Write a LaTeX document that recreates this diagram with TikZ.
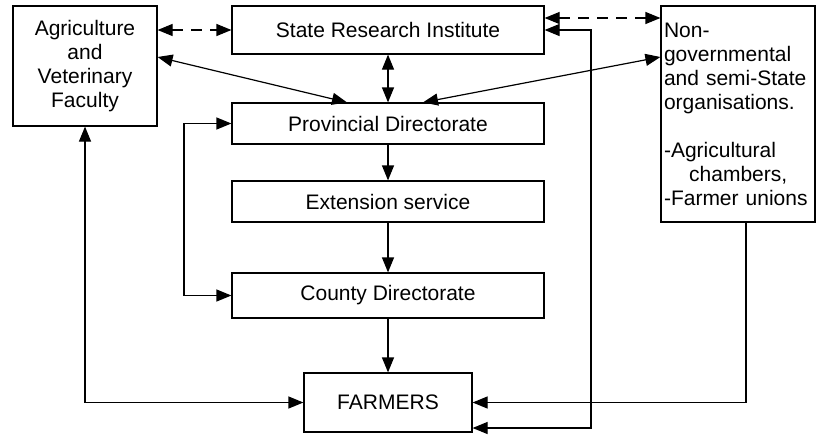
\documentclass[tikz,border=0pt]{standalone}
\usepackage{fontspec}
\setmainfont{Liberation Sans}
\usetikzlibrary{arrows.meta,positioning}
\tikzstyle{unit} = [rectangle, minimum width=312pt, text centered, draw=black, line width=1.2pt]
\tikzstyle{side} = [rectangle, draw=black, line width=1.2pt, inner sep=3pt]
\tikzstyle{arrow} = [-{Triangle[length=15pt,width=12pt]}, line width=1.2pt]
\tikzstyle{both} = [{Triangle[length=15pt,width=12pt]}-{Triangle[length=15pt,width=12pt]}, line width=1.2pt]
\tikzstyle{link} = [both, dash pattern=on 11pt off 8pt]
\begin{document}
\begin{tikzpicture}[x=1pt, y=-1pt, font=\fontsize{21}{24}\selectfont]
\useasboundingbox (0,0) rectangle (816,434);
% Draw shapes
\node (SRI) [unit, minimum height=48pt] at (388,30)
{State Research Institute};
\node (Prov) [unit, minimum height=41pt, below of = SRI, node distance=93.5pt]
{Provincial Directorate};
\node (Ext) [unit, minimum height=41pt, below of = Prov, node distance=78pt]
{Extension service};
\node (County) [unit, minimum height=45pt, below of = Ext, node distance=94pt]
{County Directorate};
\node (FARMERS) [unit, minimum width=168pt, minimum height=59pt, below of = County, node distance=107pt]
{FARMERS};
\node (Agri) [side, minimum width=144pt, minimum height=120pt, align=center] at (85,66)
{Agriculture\\ and\\ Veterinary\\ Faculty};
\node (NGO) [side, text width=148pt, minimum height=216pt, align=left] at (738,114)
{Non-\\ governmental\\ and semi-State\\ organisations.\\[24pt]
-Agricultural\\ \hspace*{1.2em}chambers,\\ -Farmer unions};
\coordinate (leftrail) at (184,0);
\coordinate (rightrail) at (591,0);
\coordinate (dashtop) at ([yshift=12pt]SRI.east);
\coordinate (farmlow) at ([yshift=-25.5pt]FARMERS.east);
% Draw arrows
\draw [link] (Agri.east |- SRI.west) -- (SRI.west);
\draw [link] (dashtop) -- (dashtop -| NGO.west);
\draw [both] ([yshift=9pt]Agri.east) -- ([xshift=-41pt]Prov.north);
\draw [both] ([yshift=57pt]NGO.west) -- ([xshift=35pt]Prov.north);
\draw [both] (SRI) -- (Prov);
\draw [arrow] (Prov) -- (Ext);
\draw [arrow] (Ext) -- (County);
\draw [arrow] (County) -- (FARMERS);
\draw [both] (Prov.west) -- (Prov.west -| leftrail) -- (leftrail |- County.west) -- (County.west);
\draw [both] (Agri.south) |- (FARMERS.west);
\draw [arrow] ([xshift=8pt]NGO.south) |- (FARMERS.east);
\draw [both] (SRI.east) -- (SRI.east -| rightrail) -- (rightrail |- farmlow) -- (farmlow);
\end{tikzpicture}
\end{document}
